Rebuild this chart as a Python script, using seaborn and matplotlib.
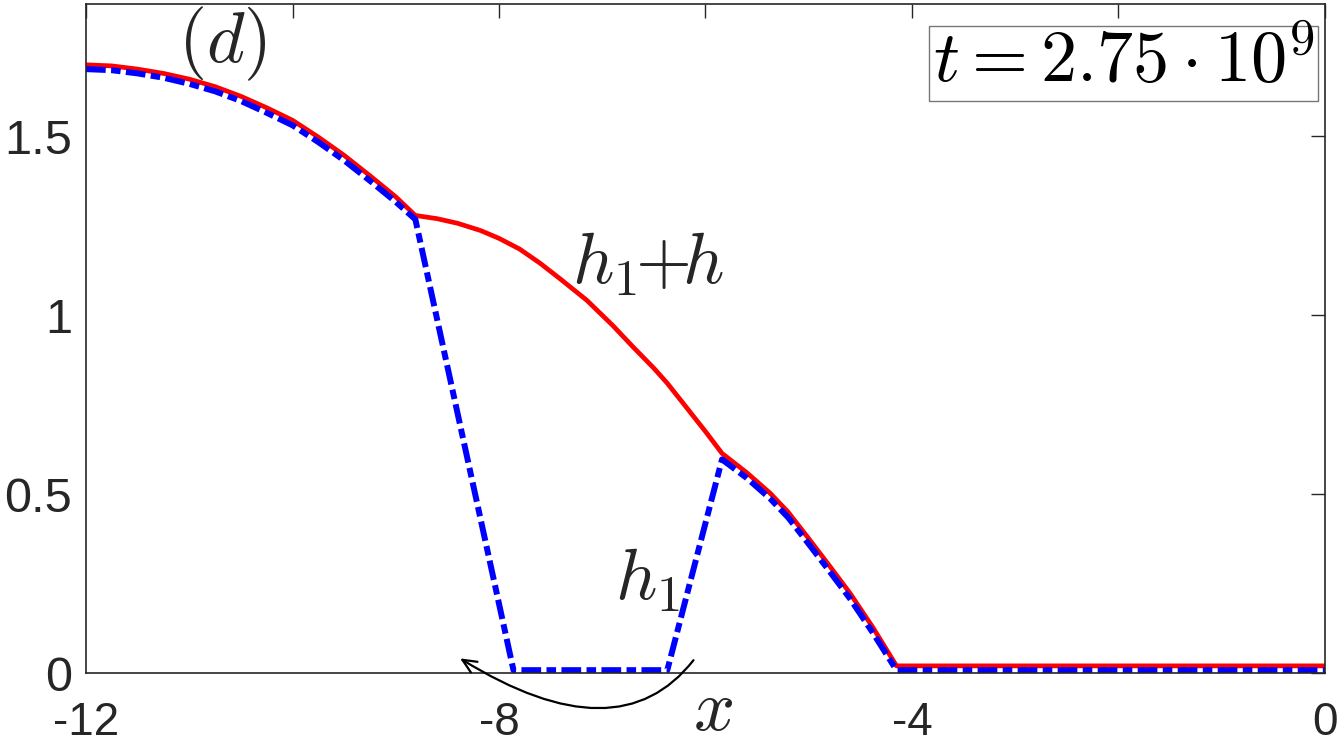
"""
Profilo h1 e h1+h al tempo t = 2.75e9 (pannello d)
"""

import matplotlib
matplotlib.use("Agg")
import matplotlib.pyplot as plt
import seaborn as sns

# ------------------------------------------------------------------
# Dati
# ------------------------------------------------------------------
x_total = [-12, -11.75, -11.5, -11.25, -11, -10.75, -10.5, -10.25, -10, -9.75,
           -9.5, -9.25, -9, -8.81, -8.6, -8.4, -8.18, -8.0, -7.8, -7.6, -7.4,
           -7.15, -6.9, -6.7, -6.5, -6.37, -6.2, -6.0, -5.84, -5.6, -5.375,
           -5.2, -4.99, -4.8, -4.6, -4.38, -4.15, -2, 0]
h_total = [1.700, 1.697, 1.688, 1.676, 1.660, 1.639, 1.612, 1.580, 1.545, 1.498,
           1.447, 1.390, 1.331, 1.279, 1.270, 1.257, 1.237, 1.215, 1.185, 1.145,
           1.100, 1.042, 0.972, 0.911, 0.852, 0.810, 0.748, 0.675, 0.614, 0.560,
           0.503, 0.450, 0.372, 0.300, 0.223, 0.128, 0.020, 0.020, 0.020]

x_h1 = [-12, -11.75, -11.5, -11.25, -11, -10.75, -10.5, -10.25, -10, -9.75,
        -9.5, -9.25, -9, -8.81, -7.86, -6.37, -5.84, -5.6, -5.375, -5.2, -4.99,
        -4.8, -4.6, -4.38, -4.15, -2, 0]
h1 = [1.688, 1.685, 1.676, 1.664, 1.647, 1.626, 1.599, 1.566, 1.531, 1.484,
      1.433, 1.376, 1.317, 1.268, 0.008, 0.008, 0.597, 0.545, 0.488, 0.435,
      0.357, 0.285, 0.208, 0.113, 0.008, 0.008, 0.008]

x_ticks = [-12, -10, -8, -6, -4, -2, 0]
x_tick_labels = ["-12", "", "-8", "", "-4", "", "0"]
y_ticks = [0, 0.5, 1, 1.5]
y_tick_labels = ["0", "0.5", "1", "1.5"]

sns.set_style("white")
plt.rcParams["font.family"] = ["Liberation Sans", "DejaVu Sans"]
plt.rcParams["mathtext.fontset"] = "cm"

fig = plt.figure(figsize=(13.42, 7.44), dpi=100)
ax = fig.add_axes([0.0641, 0.0954, 0.9232, 0.8992])

sns.lineplot(x=x_total, y=h_total, color="#ff0000", linewidth=3.4,
             estimator=None, sort=False, ax=ax)
sns.lineplot(x=x_h1, y=h1, color="#0000ff", linewidth=4.3,
             linestyle=(0, (3.3, 0.9, 1.6, 0.9)), estimator=None, sort=False,
             ax=ax)
ax.lines[-1].set_dash_capstyle("butt")

ax.set_xlim(-12, 0)
ax.set_ylim(0, 1.87)
ax.set_xticks(x_ticks)
ax.set_xticklabels(x_tick_labels)
ax.set_yticks(y_ticks)
ax.set_yticklabels(y_tick_labels)
ax.tick_params(direction="in", length=10, width=1, top=True, right=True,
               labelcolor="#262626", color="#262626")
ax.tick_params(axis="x", labelsize=33, pad=20)
ax.tick_params(axis="y", labelsize=35, pad=10)
for side in ax.spines.values():
    side.set_color("#262626")
    side.set_linewidth(1.2)

# Etichette
ax.text(-11.11, 1.707, r"$(d)$", fontsize=52, color="#262626")
ax.text(-7.29, 1.089, r"$h_1\!\!+\!\!h$", fontsize=52, color="#262626")
ax.text(-6.88, 0.204, r"$h_1$", fontsize=52, color="#262626")
ax.text(-6.12, -0.159, r"$x$", fontsize=52, color="#262626", clip_on=False)
ax.text(0.9915, 0.962, r"$t=2.75\cdot10^9$", transform=ax.transAxes,
        ha="right", va="top", fontsize=52, color="black",
        bbox=dict(boxstyle="square,pad=0.05", facecolor="white",
                  edgecolor="#777777", linewidth=1))

# Freccia curva sotto l'asse
ax.annotate("", xy=(-8.40, 0.045), xytext=(-6.10, 0.042),
            arrowprops=dict(arrowstyle="->,head_length=1.0,head_width=0.45",
                            color="black", lw=1.6,
                            connectionstyle="angle3,angleA=53,angleB=-32"),
            annotation_clip=False)

plt.savefig("out.png", dpi=100)
plt.close()
